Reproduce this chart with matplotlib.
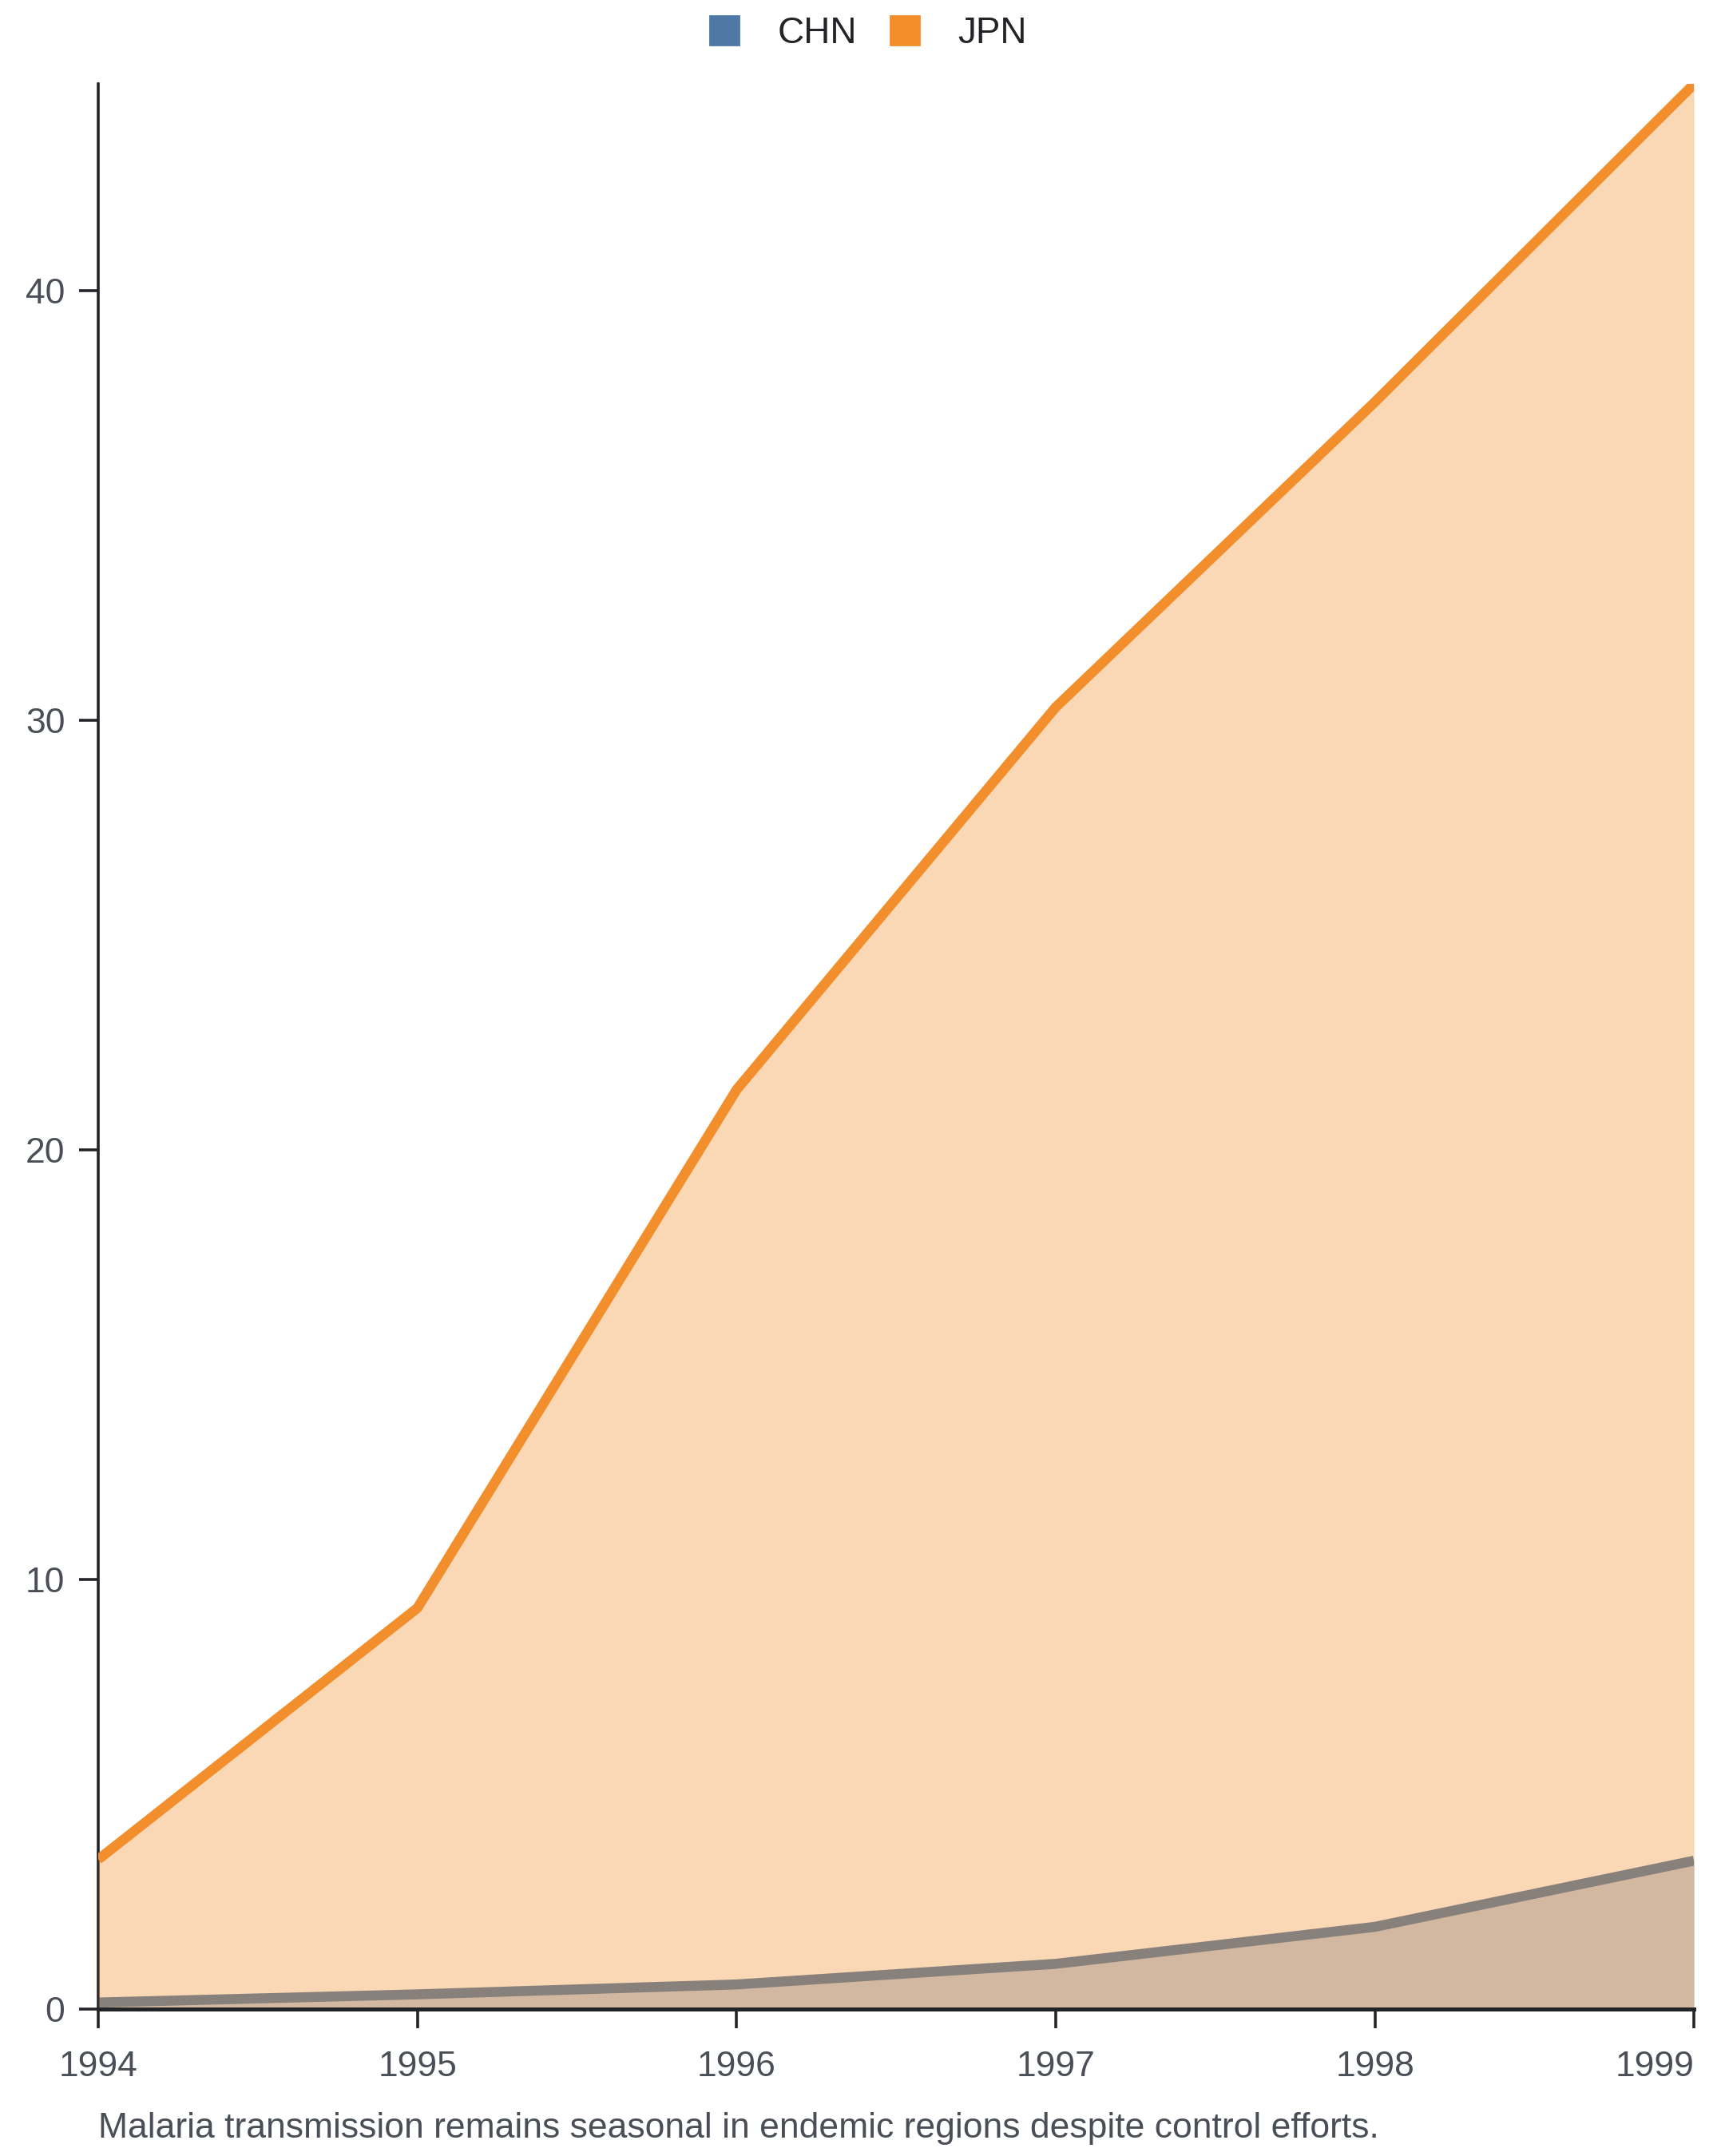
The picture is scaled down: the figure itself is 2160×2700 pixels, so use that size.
import numpy as np
import matplotlib.pyplot as plt
from matplotlib.lines import Line2D

plt.rcParams['font.family'] = ['Liberation Sans', 'DejaVu Sans']

years = [1994, 1995, 1996, 1997, 1998, 1999]
chn = [0.16, 0.35, 0.58, 1.06, 1.92, 3.46]
jpn = [3.49, 9.34, 21.4, 30.3, 37.4, 44.8]
series_names = ['CHN', 'JPN']
yticks = [0, 10, 20, 30, 40]
caption = 'Malaria transmission remains seasonal in endemic regions despite control efforts.'

blue = '#4e79a7'
orange = '#f28e2b'

fig = plt.figure(figsize=(10.8, 13.5), dpi=200)
ax = fig.add_axes([0.057, 0.068, 0.925, 0.893])

# CHN en dessous, JPN par-dessus avec transparence
ax.fill_between(years, 0, chn, color=blue, alpha=0.35, lw=0, zorder=1)
ax.plot(years, chn, color=blue, lw=4.5, solid_capstyle='butt', zorder=2)
ax.fill_between(years, 0, jpn, color=orange, alpha=0.35, lw=0, zorder=3)
ax.plot(years, jpn, color=orange, lw=4.5, solid_capstyle='butt', zorder=4)

ax.set_xlim(years[0], years[-1])
ax.set_ylim(0, max(jpn))
ax.set_xticks(years)
ax.set_xticklabels([str(y) for y in years])
ax.set_yticks(yticks)

for s in ['top', 'right']:
    ax.spines[s].set_visible(False)
for s in ['left', 'bottom']:
    ax.spines[s].set_color('#222428')
    ax.spines[s].set_linewidth(1.3)
ax.spines['bottom'].set_linewidth(1.8)
ax.spines['bottom'].set_zorder(5)

ax.tick_params(axis='both', length=8.5, width=1.3, color='#222428',
               labelsize=16, labelcolor='#4a4f57', pad=6.5)
ax.tick_params(axis='x', pad=10)
ax.get_xticklabels()[-1].set_ha('right')
ax.get_xticklabels()[-1].set_x(years[-1])

handles = [Line2D([], [], marker='s', ls='', color=c, markersize=13)
           for c in [blue, orange]]
fig.legend(handles, series_names, loc='upper center', bbox_to_anchor=(0.497, 1.008),
           ncol=2, frameon=False, fontsize=16.5, handletextpad=0.45, columnspacing=0.3,
           labelcolor='#222428')

fig.text(0.057, 0.005, caption, ha='left', va='bottom', fontsize=16, color='#4a4f57')

fig.savefig('out.png', dpi=200)
